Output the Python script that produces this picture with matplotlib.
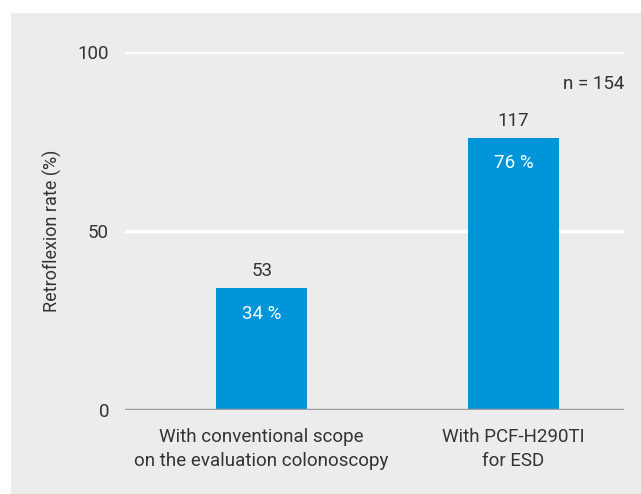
import matplotlib
matplotlib.use("Agg")
import matplotlib.pyplot as plt
from matplotlib.patches import Rectangle

categories = ["With conventional scope\non the evaluation colonoscopy", "With PCF-H290TI\nfor ESD"]
rates = [34, 76]
counts = [53, 117]
pct_labels = ["34 %", "76 %"]
yticks = [0, 50, 100]
n_label = "n = 154"

plt.rcParams['font.family'] = ['Roboto', 'DejaVu Sans']

W, H = 641, 494
fig = plt.figure(figsize=(W/100, H/100), dpi=100)
fig.patch.set_facecolor('white')
bg = Rectangle((11/W, 0), 1 - 11/W, 1 - 13/H, transform=fig.transFigure,
               facecolor='#ebeceb', edgecolor='none', zorder=-10)
fig.patches.append(bg)

ax = fig.add_axes([125/W, (H-410)/H, (624-125)/W, (410-52)/H])
ax.set_facecolor('none')
ax.set_xlim(-0.542, 1.438)
ax.set_ylim(0, 100)
x = [0, 1]
ax.bar(x, rates, width=0.361, color='#0095d9', zorder=3)
fs = 13.5
for xi, r, c, p in zip(x, rates, counts, pct_labels):
    ax.text(xi, r + 2.3, str(c), ha='center', va='bottom', fontsize=fs, color='#333333')
    ax.text(xi, r - 4.6, p, ha='center', va='top', fontsize=fs, color='white', zorder=4)

ax.set_yticks(yticks)
ax.set_yticklabels([str(t) for t in yticks], fontsize=fs, color='#333333')
ax.tick_params(axis='y', length=0, pad=11.5)
ax.tick_params(axis='x', length=0, pad=13)
ax.set_xticks(x)
ax.set_xticklabels(categories, fontsize=fs, color='#333333', linespacing=1.45)
for t in [50, 100]:
    ax.axhline(t, color='white', lw=2.5, zorder=1)
ax.axhline(0, color='#a0a0a0', lw=2.5, zorder=4)
for s in ax.spines.values():
    s.set_visible(False)

ax.text(1.0, 0.91, n_label, transform=ax.transAxes, ha='right', va='center', fontsize=fs, color='#333333')
fig.text(52/W, 1 - 231/H, "Retroflexion rate (%)", rotation=90, ha='center', va='center', fontsize=13, color='#333333')

fig.savefig("out.png", dpi=100)
